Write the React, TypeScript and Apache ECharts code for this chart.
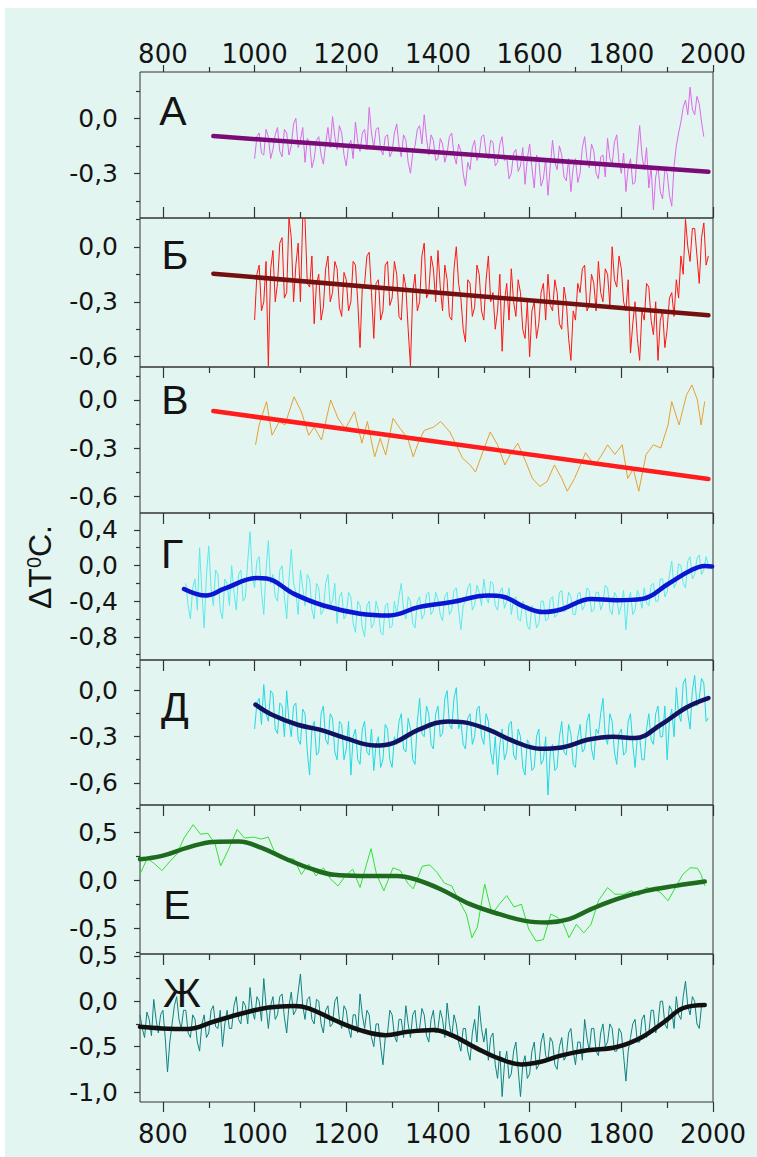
import React, { useEffect, useRef } from "react";
import * as echarts from "echarts";

// ---------- data ----------
const span = (a: number, b: number, s: number) => {
  const r: number[] = [];
  for (let y = a; y <= b; y += s) r.push(y);
  return r;
};

const xMajorTicks = [800, 1000, 1200, 1400, 1600, 1800, 2000];
const xMinorTicks = [900, 1100, 1300, 1500, 1700, 1900];

// Panel А (5-year steps, 1000-1980)
const yearsA = span(1000, 1980, 5);
const valuesA = [
  -0.22, -0.1, -0.08, -0.19, -0.2, -0.06, -0.1, -0.22, -0.17, -0.09, -0.05, -0.18, -0.21, -0.06, -0.08, -0.2, -0.15, -0.03, 0.0, -0.16,
  -0.12, -0.05, -0.24, -0.11, -0.13, -0.27, -0.22, -0.12, -0.1, -0.2, -0.25, -0.14, -0.05, -0.16, 0.01, -0.1, -0.17, -0.04, -0.08, -0.2,
  -0.26, -0.15, -0.12, -0.22, -0.02, -0.13, -0.18, -0.08, -0.06, -0.17, 0.06, -0.08, -0.16, -0.06, -0.05, -0.17, -0.2, -0.1, -0.09, -0.21,
  -0.18, -0.08, -0.03, -0.15, -0.21, -0.09, -0.12, -0.24, -0.3, -0.19, -0.15, -0.06, -0.04, -0.14, 0.02, -0.11, -0.2, -0.09, -0.12, -0.23,
  -0.22, -0.11, -0.14, -0.24, -0.19, -0.1, -0.08, -0.2, -0.25, -0.14, -0.18, -0.3, -0.37, -0.24, -0.28, -0.16, -0.12, -0.23, -0.2, -0.1,
  -0.09, -0.19, -0.22, -0.12, -0.13, -0.26, -0.24, -0.14, -0.1, -0.23, -0.21, -0.33, -0.3, -0.19, -0.17, -0.29, -0.26, -0.16, -0.36, -0.22,
  -0.14, -0.27, -0.38, -0.2, -0.23, -0.37, -0.33, -0.22, -0.42, -0.26, -0.12, -0.24, -0.28, -0.15, -0.2, -0.32, -0.34, -0.22, -0.4, -0.27,
  -0.22, -0.35, -0.3, -0.16, -0.1, -0.22, -0.27, -0.14, -0.18, -0.3, -0.33, -0.21, -0.2, -0.32, -0.11, -0.22, -0.25, -0.13, -0.09, -0.24,
  -0.3, -0.19, -0.4, -0.27, -0.22, -0.36, -0.35, -0.18, -0.04, -0.2, -0.28, -0.16, -0.38, -0.26, -0.5, -0.32, -0.26, -0.4, -0.44, -0.28,
  -0.3, -0.42, -0.48, -0.26, -0.15, -0.08, -0.02, 0.06, 0.1, 0.02, 0.17, 0.05, 0.02, 0.12, 0.08, -0.02, -0.1,
];
const trendYearsA = [910, 1990];
const trendA = [-0.097, -0.292];
const yLabelsA = [0, -0.3];
const yMinorA = [0.15, -0.15, -0.45];

// Panel Б (5-year steps, 1000-1990)
const yearsB = span(1000, 1990, 5);
const valuesB = [
  -0.4, -0.15, -0.1, -0.35, -0.3, -0.08, -0.65, -0.12, -0.02, -0.3, -0.2, 0.02, 0.05, -0.28, -0.25, 0.16, 0.05, -0.3, -0.1, 0.02,
  -0.3, 0.16, 0.15, -0.2, -0.22, -0.05, -0.42, -0.2, -0.15, -0.4, -0.33, -0.12, -0.05, -0.3, -0.25, -0.08, -0.12, -0.33, -0.38, -0.14,
  -0.18, -0.35, -0.3, -0.08, -0.1, -0.3, -0.55, -0.22, -0.2, -0.05, -0.03, -0.25, -0.5, -0.2, -0.18, -0.4, -0.35, -0.1, -0.08, -0.32,
  -0.28, -0.08, -0.15, -0.38, -0.4, -0.15, -0.22, -0.45, -0.65, -0.25, -0.15, -0.35, -0.3, -0.05, 0.02, -0.28, -0.25, -0.05, -0.12, -0.3,
  -0.02, -0.22, -0.35, -0.1, -0.18, -0.38, -0.4, -0.12, 0.0, -0.2, -0.28, -0.45, -0.52, -0.18, -0.2, -0.38, -0.33, -0.1, -0.15, -0.35,
  -0.4, -0.18, -0.05, -0.3, -0.25, -0.45, -0.35, -0.15, -0.57, -0.3, -0.2, -0.4, -0.12, -0.3, -0.38, -0.18, -0.25, -0.45, -0.5, -0.3,
  -0.6, -0.35, -0.3, -0.5, -0.42, -0.25, -0.2, -0.4, -0.15, -0.32, -0.35, -0.18, -0.25, -0.42, -0.45, -0.22, -0.3, -0.5, -0.62, -0.35,
  -0.4, -0.2, -0.25, -0.12, -0.1, -0.35, -0.32, -0.15, -0.2, -0.35, -0.08, -0.25, -0.3, -0.12, -0.15, -0.32, 0.0, -0.18, -0.22, -0.05,
  -0.12, -0.3, -0.35, -0.18, -0.58, -0.42, -0.3, -0.5, -0.62, -0.35, -0.4, -0.2, -0.22, -0.4, -0.48, -0.3, -0.62, -0.4, -0.35, -0.55,
  -0.45, -0.28, -0.25, -0.38, -0.18, -0.28, -0.05, -0.15, 0.15, 0.0, -0.08, 0.1, 0.1, -0.05, -0.2, 0.05, 0.13, -0.1, -0.05,
];
const trendYearsB = [910, 1990];
const trendB = [-0.147, -0.374];
const yLabelsB = [0, -0.3, -0.6];
const yMinorB = [0.15, -0.15, -0.45];

// Panel В
const yearsV = [
  1002, 1010, 1026, 1038, 1054, 1066, 1086, 1102, 1118, 1130,
  1146, 1166, 1182, 1198, 1218, 1234, 1246, 1262, 1274, 1286,
  1302, 1318, 1334, 1346, 1358, 1370, 1390, 1406, 1426, 1438,
  1454, 1470, 1482, 1498, 1514, 1530, 1546, 1558, 1574, 1590,
  1606, 1622, 1638, 1654, 1670, 1682, 1698, 1710, 1722, 1742,
  1758, 1770, 1786, 1802, 1814, 1826, 1838, 1854, 1870, 1886,
  1902, 1910, 1926, 1942, 1954, 1966, 1974, 1982,
];
const valuesV = [
  -0.28, -0.156, -0.01, -0.22, -0.135, -0.156, 0.02, -0.073, -0.22, -0.17,
  -0.25, 0.0, -0.115, -0.18, -0.073, -0.27, -0.135, -0.355, -0.24, -0.344,
  -0.115, -0.18, -0.24, -0.355, -0.26, -0.19, -0.17, -0.135, -0.2, -0.27,
  -0.365, -0.406, -0.45, -0.323, -0.2, -0.28, -0.406, -0.34, -0.27, -0.375,
  -0.49, -0.54, -0.51, -0.406, -0.49, -0.57, -0.49, -0.41, -0.33, -0.41,
  -0.34, -0.28, -0.34, -0.28, -0.49, -0.43, -0.57, -0.34, -0.28, -0.3,
  -0.156, -0.01, -0.156, 0.03, 0.094, 0.0, -0.156, -0.01,
];
const trendYearsV = [910, 1990];
const trendV = [-0.069, -0.494];
const yLabelsV = [0, -0.3, -0.6];
const yMinorV = [0.15, -0.15, -0.45];

// Panel Г (5-year steps, 850-1990)
const yearsG = span(850, 1990, 5);
const valuesG = [
  -0.2, -0.45, -0.6, -0.25, -0.15, -0.5, 0.2, -0.3, -0.7, -0.1, 0.22, -0.25, -0.45, -0.05, -0.1, -0.5, -0.6, -0.15, -0.2, -0.45,
  0.0, -0.3, -0.5, -0.1, -0.05, -0.4, -0.35, 0.05, 0.38, -0.1, -0.25, 0.05, 0.1, -0.3, -0.55, -0.05, 0.28, -0.2, -0.1, -0.35,
  -0.4, -0.05, 0.0, -0.35, -0.6, -0.15, 0.18, -0.2, -0.3, -0.55, -0.05, -0.25, -0.45, -0.1, -0.15, -0.5, -0.6, -0.2, -0.25, -0.55,
  -0.5, -0.2, -0.1, -0.45, -0.4, -0.2, -0.65, -0.35, -0.3, -0.6, -0.55, -0.3, -0.35, -0.65, -0.75, -0.4, -0.45, -0.7, -0.8, -0.45,
  -0.4, -0.7, -0.65, -0.4, -0.5, -0.75, -0.78, -0.45, -0.42, -0.7, -0.68, -0.4, -0.55, -0.35, -0.2, -0.5, -0.6, -0.35, -0.4, -0.65,
  -0.7, -0.4, -0.35, -0.6, -0.55, -0.32, -0.3, -0.55, -0.5, -0.3, -0.38, -0.55, -0.62, -0.35, -0.3, -0.55, -0.5, -0.28, -0.25, -0.5,
  -0.72, -0.45, -0.4, -0.25, -0.2, -0.5, -0.45, -0.22, -0.3, -0.45, -0.15, -0.35, -0.42, -0.18, -0.2, -0.45, -0.5, -0.3, -0.25, -0.48,
  -0.4, -0.25, -0.55, -0.38, -0.35, -0.6, -0.62, -0.4, -0.45, -0.68, -0.72, -0.45, -0.5, -0.7, -0.65, -0.4, -0.4, -0.62, -0.6, -0.38,
  -0.35, -0.58, -0.55, -0.3, -0.28, -0.52, -0.5, -0.3, -0.35, -0.55, -0.55, -0.32, -0.3, -0.5, -0.45, -0.25, -0.28, -0.52, -0.5, -0.3,
  -0.3, -0.5, -0.42, -0.22, -0.25, -0.5, -0.55, -0.3, -0.35, -0.55, -0.45, -0.28, -0.72, -0.4, -0.3, -0.55, -0.5, -0.28, -0.35, -0.48,
  -0.25, -0.42, -0.45, -0.22, -0.2, -0.4, -0.4, -0.15, -0.15, -0.35, -0.3, -0.1, 0.05, -0.25, -0.2, 0.02, 0.0, -0.2, -0.25, 0.05,
  0.1, -0.15, -0.1, 0.08, 0.12, -0.1, -0.05, 0.1, 0.0,
];
const trendYearsG = [846, 894, 934, 1006, 1026, 1086, 1150, 1230, 1294, 1358, 1430, 1510, 1542, 1590, 1630, 1670, 1734, 1790, 1846, 1902, 1950, 1982, 1998];
const trendG = [-0.263, -0.337, -0.26, -0.14, -0.145, -0.318, -0.448, -0.54, -0.56, -0.467, -0.41, -0.337, -0.35, -0.467, -0.522, -0.49, -0.374, -0.39, -0.374, -0.207, -0.059, -0.004, -0.01];
const yLabelsG = [0.4, 0, -0.4, -0.8];
const yMinorG = [0.2, -0.2, -0.6, -1.0];

// Panel Д (5-year steps, 1000-1990)
const yearsD = span(1000, 1990, 5);
const valuesD = [
  -0.25, -0.08, -0.05, -0.22, 0.04, -0.15, -0.2, 0.0, -0.02, -0.25, -0.28, -0.08, -0.1, -0.3, 0.0, -0.2, -0.3, -0.1, -0.08, -0.32,
  -0.35, -0.12, -0.15, -0.4, -0.55, -0.25, -0.2, -0.42, -0.4, -0.15, -0.1, -0.32, -0.35, -0.15, -0.18, -0.4, -0.45, -0.2, -0.22, -0.45,
  -0.38, -0.2, -0.55, -0.3, -0.25, -0.45, -0.48, -0.25, -0.2, -0.4, -0.42, -0.25, -0.52, -0.35, -0.3, -0.5, -0.45, -0.22, -0.25, -0.45,
  -0.5, -0.3, -0.35, -0.2, -0.15, -0.38, -0.4, -0.18, -0.25, -0.45, -0.48, -0.2, -0.05, -0.28, -0.3, -0.1, -0.15, -0.35, -0.38, -0.15,
  -0.1, -0.3, -0.28, -0.05, 0.0, -0.22, -0.25, -0.05, 0.02, -0.25, -0.2, -0.35, -0.38, -0.18, -0.15, -0.35, -0.3, -0.12, -0.1, -0.3,
  -0.35, -0.15, -0.2, -0.4, -0.48, -0.3, -0.55, -0.35, -0.25, -0.45, -0.4, -0.22, -0.2, -0.42, -0.45, -0.25, -0.3, -0.5, -0.55, -0.32,
  -0.35, -0.52, -0.5, -0.3, -0.25, -0.48, -0.45, -0.3, -0.68, -0.4, -0.35, -0.52, -0.5, -0.3, -0.2, -0.4, -0.42, -0.22, -0.28, -0.48,
  -0.5, -0.3, -0.22, -0.4, -0.38, -0.2, -0.15, -0.38, -0.45, -0.25, -0.28, -0.15, -0.05, -0.3, -0.35, -0.15, -0.2, -0.4, -0.48, -0.28,
  -0.25, -0.42, -0.4, -0.2, -0.15, -0.35, -0.5, -0.3, -0.3, -0.45, -0.45, -0.25, -0.15, -0.32, -0.35, -0.15, -0.1, -0.3, -0.3, -0.1,
  -0.45, -0.2, -0.12, -0.3, 0.02, -0.15, -0.2, 0.05, 0.08, -0.15, -0.25, 0.0, 0.1, -0.1, -0.05, 0.08, 0.05, -0.2, -0.18,
];
const trendYearsD = [1002, 1038, 1094, 1142, 1198, 1262, 1302, 1358, 1422, 1454, 1510, 1566, 1622, 1670, 1726, 1782, 1830, 1886, 1942, 1990];
const trendD = [-0.091, -0.157, -0.222, -0.254, -0.309, -0.357, -0.341, -0.254, -0.2, -0.205, -0.254, -0.33, -0.378, -0.37, -0.32, -0.3, -0.309, -0.222, -0.109, -0.048];
const yLabelsD = [0, -0.3, -0.6];
const yMinorD = [0.15, -0.15, -0.45];

// Panel Е
const yearsE = [
  750, 766, 782, 798, 814, 830, 846, 866, 882, 898,
  914, 926, 942, 962, 978, 998, 1014, 1030, 1042, 1062,
  1086, 1102, 1118, 1134, 1150, 1166, 1182, 1198, 1214, 1230,
  1242, 1254, 1266, 1282, 1302, 1318, 1334, 1346, 1366, 1382,
  1398, 1414, 1430, 1446, 1462, 1474, 1486, 1502, 1518, 1534,
  1550, 1566, 1582, 1598, 1614, 1630, 1646, 1662, 1674, 1686,
  1702, 1718, 1734, 1750, 1770, 1786, 1806, 1822, 1838, 1854,
  1870, 1886, 1902, 1918, 1934, 1950, 1966, 1974, 1982,
];
const valuesE = [
  0.063, 0.23, 0.17, 0.1, 0.19, 0.27, 0.44, 0.58, 0.48, 0.49,
  0.375, 0.15, 0.31, 0.53, 0.44, 0.45, 0.43, 0.45, 0.31, 0.23,
  0.22, 0.06, 0.167, 0.045, 0.13, 0.01, -0.06, 0.045, 0.115, -0.076,
  0.13, 0.33, 0.06, -0.11, 0.13, 0.1, -0.03, -0.09, 0.146, 0.16,
  0.08, -0.03, -0.06, -0.215, -0.354, -0.6, -0.49, -0.04, -0.354, -0.25,
  -0.16, -0.28, -0.25, -0.51, -0.635, -0.62, -0.354, -0.39, -0.46, -0.6,
  -0.46, -0.55, -0.46, -0.215, -0.076, -0.146, -0.146, -0.11, -0.16, -0.076,
  -0.094, -0.13, -0.215, -0.076, 0.06, 0.13, 0.125, 0.06, -0.06,
];
const trendYearsE = [750, 798, 854, 910, 966, 1014, 1070, 1126, 1174, 1230, 1310, 1350, 1406, 1470, 1534, 1590, 1638, 1686, 1734, 1790, 1854, 1918, 1982];
const trendE = [0.219, 0.254, 0.34, 0.4, 0.403, 0.34, 0.219, 0.115, 0.056, 0.045, 0.045, 0.01, -0.094, -0.25, -0.354, -0.424, -0.441, -0.406, -0.302, -0.198, -0.111, -0.059, -0.014];
const yLabelsE = [0.5, 0, -0.5];
const yMinorE = [0.75, 0.25, -0.25, -0.75];

// Panel Ж (5-year steps, 750-1980)
const yearsZ = span(750, 1980, 5);
const valuesZ = [
  -0.15, -0.3, -0.4, -0.12, -0.2, -0.38, 0.02, -0.2, -0.35, -0.15, -0.1, -0.4, -0.78, -0.45, -0.25, -0.05, 0.05, -0.2, -0.3, -0.1,
  -0.1, -0.35, -0.4, -0.15, -0.2, -0.45, -0.55, -0.25, -0.15, -0.4, -0.35, -0.1, -0.05, -0.28, -0.3, -0.1, -0.5, -0.25, -0.1, -0.3,
  -0.3, -0.05, 0.05, -0.2, -0.25, 0.0, -0.05, -0.25, 0.15, -0.1, -0.2, 0.05, 0.0, -0.22, 0.25, -0.05, -0.3, -0.05, 0.05, -0.2,
  -0.15, 0.05, 0.08, -0.18, -0.35, -0.05, 0.1, -0.15, -0.1, 0.1, 0.3, -0.05, -0.2, 0.02, 0.05, -0.2, -0.25, 0.02, 0.0, -0.25,
  -0.35, -0.1, -0.05, -0.28, -0.25, 0.0, 0.05, -0.2, -0.3, -0.05, -0.1, -0.3, -0.4, -0.15, -0.15, -0.35, 0.08, -0.15, -0.3, -0.1,
  -0.15, -0.4, -0.5, -0.25, -0.25, -0.5, -0.7, -0.4, -0.35, -0.1, -0.15, -0.38, -0.45, -0.2, -0.2, -0.4, -0.05, -0.25, -0.4, -0.15,
  -0.1, -0.35, -0.3, -0.08, -0.15, -0.38, -0.45, -0.2, -0.1, -0.35, -0.3, -0.1, -0.2, -0.4, -0.02, -0.25, -0.4, -0.15, -0.25, -0.45,
  -0.55, -0.3, -0.3, -0.55, -0.65, -0.35, -0.2, -0.45, -0.05, -0.3, -0.45, -0.3, -0.65, -0.4, -0.35, -0.7, -0.85, -0.55, -1.05, -0.7,
  -0.55, -0.85, -0.8, -0.55, -0.45, -0.75, -1.05, -0.7, -0.6, -0.85, -0.8, -0.55, -0.45, -0.75, -0.7, -0.45, -0.35, -0.6, -0.65, -0.4,
  -0.45, -0.7, -0.75, -0.5, -0.4, -0.65, -0.6, -0.35, -0.3, -0.55, -0.7, -0.45, -0.45, -0.65, -0.2, -0.4, -0.55, -0.3, -0.3, -0.55,
  -0.6, -0.35, -0.25, -0.5, -0.45, -0.25, -0.3, -0.55, -0.55, -0.3, -0.35, -0.6, -0.88, -0.55, -0.4, -0.25, -0.2, -0.45, -0.45, -0.2,
  -0.15, -0.4, -0.35, -0.1, -0.1, -0.35, -0.25, 0.0, 0.0, -0.25, -0.3, -0.05, -0.1, -0.3, 0.05, -0.15, -0.2, 0.05, 0.22, -0.05,
  -0.15, 0.05, 0.0, -0.25, -0.3, -0.05, -0.05,
];
const trendYearsZ = [750, 798, 854, 910, 974, 1030, 1086, 1118, 1174, 1230, 1286, 1334, 1390, 1430, 1486, 1534, 1582, 1622, 1670, 1726, 1790, 1846, 1894, 1934, 1982];
const trendZ = [-0.282, -0.3, -0.307, -0.226, -0.133, -0.07, -0.052, -0.078, -0.207, -0.318, -0.374, -0.337, -0.318, -0.374, -0.522, -0.633, -0.696, -0.67, -0.596, -0.541, -0.504, -0.393, -0.226, -0.078, -0.041];
const yLabelsZ = [0.5, 0, -0.5, -1.0];
const yMinorZ = [0.25, -0.25, -0.75];

// ---------- layout / styles ----------
const PLOT_LEFT = 140;
const PLOT_WIDTH = 573;
const X_MIN = 750;
const X_MAX = 2000;
const TICK_FONT = "DejaVu Sans";
const LETTER_FONT = "Liberation Sans";
const AXIS_COLOR = "#333";

type Panel = {
  letter: string;
  lx: number;
  ly: number;
  top: number;
  height: number;
  min: number;
  max: number;
  labels: number[];
  minor: number[];
  years: number[];
  values: number[];
  tYears: number[];
  tValues: number[];
  color: string;
  tColor: string;
  smooth: boolean;
  xTicks: { pos: "top" | "bottom"; inside: boolean; labels?: boolean }[];
};

const PANELS: Panel[] = [
  { letter: "А", lx: 173, ly: 111, top: 72, height: 146, min: -0.544, max: 0.253, labels: yLabelsA, minor: yMinorA, years: yearsA, values: valuesA, tYears: trendYearsA, tValues: trendA, color: "#dc6ae8", tColor: "#7a0c78", smooth: false, xTicks: [{ pos: "top", inside: false, labels: true }, { pos: "bottom", inside: true }] },
  { letter: "Б", lx: 175, ly: 255, top: 218, height: 149, min: -0.656, max: 0.157, labels: yLabelsB, minor: yMinorB, years: yearsB, values: valuesB, tYears: trendYearsB, tValues: trendB, color: "#ff1414", tColor: "#741010", smooth: false, xTicks: [] },
  { letter: "В", lx: 175, ly: 400, top: 367, height: 146, min: -0.706, max: 0.206, labels: yLabelsV, minor: yMinorV, years: yearsV, values: valuesV, tYears: trendYearsV, tValues: trendV, color: "#e4a032", tColor: "#ff1c1c", smooth: false, xTicks: [{ pos: "top", inside: true }] },
  { letter: "Г", lx: 172, ly: 554, top: 513, height: 147, min: -1.06, max: 0.59, labels: yLabelsG, minor: yMinorG, years: yearsG, values: valuesG, tYears: trendYearsG, tValues: trendG, color: "#5ae9ec", tColor: "#0a16d2", smooth: true, xTicks: [{ pos: "top", inside: true }] },
  { letter: "Д", lx: 175, ly: 707, top: 660, height: 145, min: -0.745, max: 0.2, labels: yLabelsD, minor: yMinorD, years: yearsD, values: valuesD, tYears: trendYearsD, tValues: trendD, color: "#22d8e2", tColor: "#121262", smooth: true, xTicks: [{ pos: "top", inside: true }] },
  { letter: "Е", lx: 177, ly: 905, top: 805, height: 149, min: -0.77, max: 0.785, labels: yLabelsE, minor: yMinorE, years: yearsE, values: valuesE, tYears: trendYearsE, tValues: trendE, color: "#34e034", tColor: "#1e6a1e", smooth: true, xTicks: [{ pos: "top", inside: true }] },
  { letter: "Ж", lx: 182, ly: 993, top: 954, height: 148, min: -1.11, max: 0.52, labels: yLabelsZ, minor: yMinorZ, years: yearsZ, values: valuesZ, tYears: trendYearsZ, tValues: trendZ, color: "#0e8282", tColor: "#111111", smooth: true, xTicks: [{ pos: "top", inside: true }, { pos: "bottom", inside: false, labels: true }] },
];

const fmt = (v: number) => {
  const s = (Math.round(v * 10) / 10).toFixed(1).replace(".", ",");
  return s === "-0,0" ? "0,0" : s;
};

function buildOption() {
  const grids: any[] = [];
  const xAxes: any[] = [];
  const yAxes: any[] = [];
  const series: any[] = [];

  PANELS.forEach((p, gi) => {
    grids.push({
      left: PLOT_LEFT,
      width: PLOT_WIDTH,
      top: p.top,
      height: p.height,
      show: true,
      borderColor: AXIS_COLOR,
      borderWidth: 1,
      backgroundColor: "transparent",
    });
    const hostX = xAxes.length;
    xAxes.push({
      type: "value", gridIndex: gi, position: "bottom", min: X_MIN, max: X_MAX,
      axisLine: { show: false, onZero: false }, axisTick: { show: false },
      axisLabel: { show: false }, splitLine: { show: false },
    });
    p.xTicks.forEach((t) => {
      const majorLen = t.inside ? 11 : t.pos === "top" ? 7 : 10;
      const minorLen = t.inside ? 6 : t.pos === "top" ? 5 : 6;
      xAxes.push({
        type: "value", gridIndex: gi, position: t.pos, min: X_MIN, max: X_MAX,
        axisLine: { show: false, onZero: false },
        axisTick: { show: true, inside: t.inside, length: majorLen, customValues: xMajorTicks, lineStyle: { color: AXIS_COLOR, width: 1.2 } },
        axisLabel: t.labels
          ? { show: true, customValues: xMajorTicks, formatter: (v: number) => String(Math.round(v)), fontFamily: TICK_FONT, fontSize: 26, color: "#141414", margin: t.pos === "top" ? 5 : 19 }
          : { show: false },
        splitLine: { show: false },
      });
      xAxes.push({
        type: "value", gridIndex: gi, position: t.pos, min: X_MIN, max: X_MAX,
        axisLine: { show: false, onZero: false },
        axisTick: { show: true, inside: t.inside, length: minorLen, customValues: xMinorTicks, lineStyle: { color: AXIS_COLOR, width: 1.2 } },
        axisLabel: { show: false },
        splitLine: { show: false },
      });
    });
    const majorY = yAxes.length;
    yAxes.push({
      type: "value", gridIndex: gi, position: "left", min: p.min, max: p.max,
      axisLine: { show: false, onZero: false },
      axisTick: { show: true, inside: false, length: 6, customValues: p.labels, lineStyle: { color: AXIS_COLOR, width: 1.2 } },
      axisLabel: { show: true, customValues: p.labels, formatter: fmt, fontFamily: TICK_FONT, fontSize: 25, color: "#141414", margin: 22 },
      splitLine: { show: false },
    });
    yAxes.push({
      type: "value", gridIndex: gi, position: "left", min: p.min, max: p.max,
      axisLine: { show: false, onZero: false },
      axisTick: { show: true, inside: false, length: 4, customValues: p.minor, lineStyle: { color: AXIS_COLOR, width: 1.2 } },
      axisLabel: { show: false },
      splitLine: { show: false },
    });
    series.push({
      type: "line", xAxisIndex: hostX, yAxisIndex: majorY,
      data: p.years.map((y, i) => [y, p.values[i]]),
      symbol: "none", silent: true, z: 2,
      lineStyle: { color: p.color, width: 1 },
    });
    series.push({
      type: "line", xAxisIndex: hostX, yAxisIndex: majorY,
      data: p.tYears.map((y, i) => [y, p.tValues[i]]),
      symbol: "none", silent: true, z: 3, smooth: p.smooth ? 0.4 : false,
      lineStyle: { color: p.tColor, width: 4.5, cap: "round" },
    });
  });

  const graphics: any[] = [
    { type: "rect", silent: true, z: -100, shape: { x: 5, y: 8, width: 752, height: 1149 }, style: { fill: "#e3f5f0" } },
    ...PANELS.map((p) => ({
      type: "text", silent: true, z: 10, x: p.lx, y: p.ly,
      style: { text: p.letter, fontFamily: LETTER_FONT, fontSize: 41, fill: "#141414", align: "center", verticalAlign: "middle" },
    })),
    {
      type: "text", silent: true, z: 10, x: 40, y: 567, rotation: Math.PI / 2,
      style: {
        text: "{a|ΔT}{s|0}{a|C.}",
        fill: "#141414",
        align: "center",
        verticalAlign: "middle",
        rich: {
          a: { fontFamily: LETTER_FONT, fontSize: 32, fill: "#141414" },
          s: { fontFamily: LETTER_FONT, fontSize: 20, fill: "#141414", verticalAlign: "top" },
        },
      },
    },
  ];

  return {
    animation: false,
    backgroundColor: "#ffffff",
    grid: grids,
    xAxis: xAxes,
    yAxis: yAxes,
    series,
    graphic: { elements: graphics },
  };
}

export default function App() {
  const ref = useRef<HTMLDivElement>(null);
  useEffect(() => {
    if (!ref.current) return;
    const chart = echarts.init(ref.current, undefined, { renderer: "svg" });
    chart.setOption(buildOption() as any);
    return () => chart.dispose();
  }, []);
  return (
    <div
      ref={ref}
      style={{ position: "absolute", left: 0, top: 0, width: 757, height: 1157 }}
    />
  );
}
